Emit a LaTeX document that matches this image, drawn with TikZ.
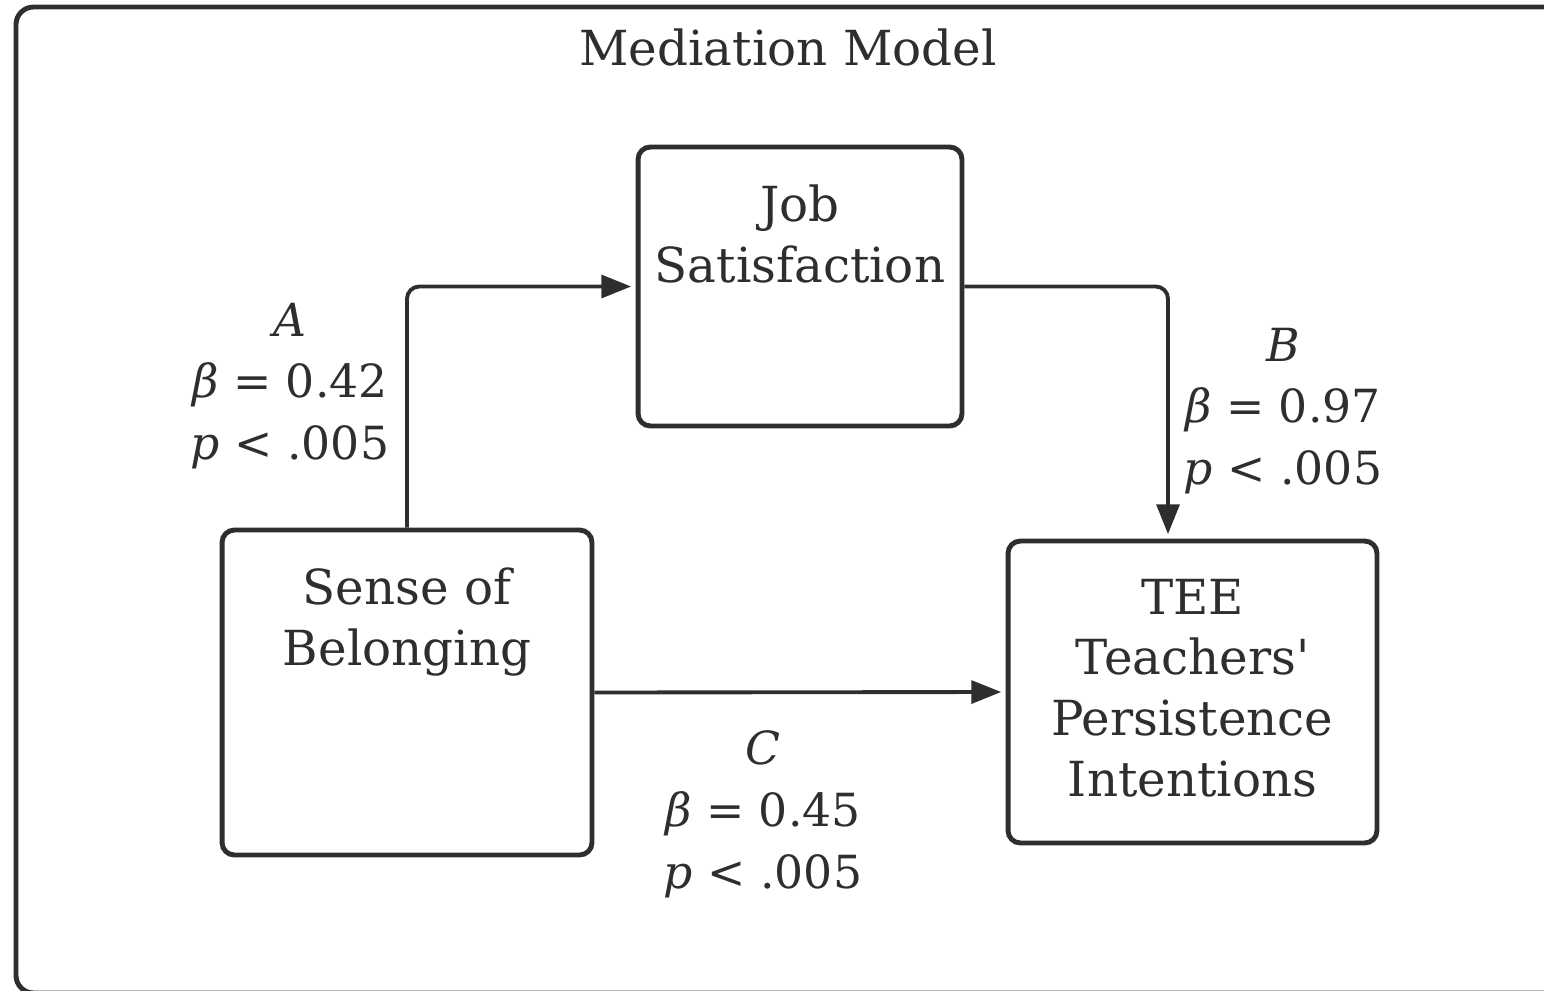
\documentclass[tikz,border=0pt]{standalone}
\usepackage{fontspec}
\setmainfont{DejaVu Serif}
\usetikzlibrary{arrows.meta}
\definecolor{inkgray}{HTML}{2E2E2E}
\tikzset{
  box/.style={draw=inkgray, line width=2.8pt, rounded corners=7pt, inner sep=0pt},
  boxtext/.style={align=center, anchor=north, yshift=-0.68cm, text=inkgray,
    font=\fontsize{27.5}{34.6}\selectfont},
  path/.style={draw=inkgray, line width=2.2pt, rounded corners=7pt, shorten >=2.5pt,
    -{Triangle[length=17pt,width=13pt]}},
  coef/.style={align=center, text=inkgray, font=\fontsize{26}{35.2}\selectfont},
}
\begin{document}
\begin{tikzpicture}[x=0.02cm, y=-0.02cm, font=\fontsize{27.5}{34.6}\selectfont]
  \clip (0,0) rectangle (1544,990);
  % Frame
  \draw[inkgray, line width=2.8pt, rounded corners=10pt] (16,7) rectangle (1600,993);
  % Title
  \node[text=inkgray] (title) at (788,47) {Mediation Model};
  % Boxes
  \node[box, minimum width=6.48cm, minimum height=5.58cm,
    label={[boxtext]north:Job\\Satisfaction}] (job) at (800,286.5) {};
  \node[box, minimum width=7.4cm, minimum height=6.5cm,
    label={[boxtext]north:Sense of\\Belonging}] (belong) at (407,692.5) {};
  \node[box, minimum width=7.38cm, minimum height=6.04cm,
    label={[boxtext]north:TEE\\Teachers\textquotesingle\\Persistence\\Intentions}] (tee) at (1192.5,692) {};
  % Paths
  \draw[path] (belong.north) |- (job.west);
  \draw[path] (job.east) -| ([xshift=-0.49cm]tee.north);
  \draw[path] (belong.east) -- (tee.west);
  % Coefficients
  \node[coef] (coefA) at (290,386) {\textit{A}\\\textit{β} = 0.42\\\textit{p} < .005};
  \node[coef] (coefB) at (1283,411) {\textit{B}\\\textit{β} = 0.97\\\textit{p} < .005};
  \node[coef] (coefC) at (763,814) {\textit{C}\\\textit{β} = 0.45\\\textit{p} < .005};
\end{tikzpicture}
\end{document}
